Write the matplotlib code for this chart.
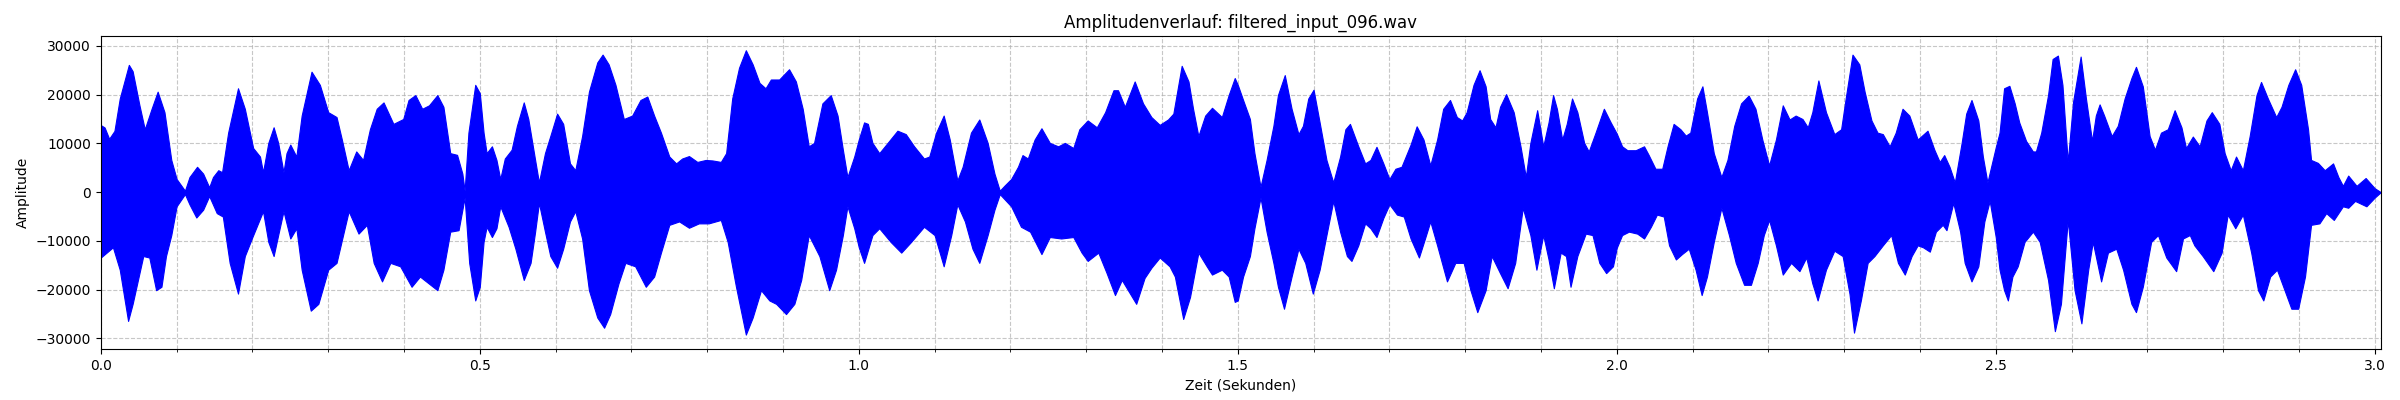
import matplotlib
matplotlib.use('Agg')
import matplotlib.pyplot as plt
from matplotlib.ticker import MultipleLocator

# Envelope of the waveform (seconds, amplitude)
duration = 3.008

upper_t = [0.000, 0.005, 0.011, 0.018, 0.025, 0.037, 0.042, 0.051, 0.058, 0.067, 0.075, 0.084, 0.093, 0.100,
           0.111, 0.117, 0.127, 0.135, 0.143, 0.148, 0.155, 0.160, 0.168, 0.181, 0.190, 0.201, 0.210, 0.214,
           0.221, 0.228, 0.234, 0.241, 0.245, 0.250, 0.258, 0.265, 0.278, 0.289, 0.300, 0.311, 0.318, 0.327,
           0.337, 0.346, 0.355, 0.364, 0.373, 0.386, 0.399, 0.406, 0.415, 0.424, 0.433, 0.444, 0.452, 0.461,
           0.470, 0.477, 0.480, 0.485, 0.494,
           0.500, 0.505, 0.509, 0.516, 0.522, 0.527, 0.533, 0.542, 0.549, 0.558, 0.564, 0.573, 0.578, 0.586,
           0.593, 0.602, 0.610, 0.619, 0.626, 0.635, 0.644, 0.655, 0.662, 0.670, 0.679, 0.690, 0.701, 0.712,
           0.721, 0.730, 0.739, 0.750, 0.759, 0.767, 0.776, 0.787, 0.798, 0.807, 0.818, 0.825, 0.833, 0.842,
           0.851, 0.860, 0.869, 0.877, 0.884, 0.895, 0.908, 0.917, 0.926, 0.934, 0.941, 0.952, 0.963, 0.972,
           0.979, 0.985, 0.994,
           1.000, 1.007, 1.012, 1.018, 1.027, 1.038, 1.051, 1.062, 1.073, 1.086, 1.093, 1.102, 1.112, 1.120,
           1.130, 1.137, 1.148, 1.159, 1.170, 1.179, 1.186, 1.192, 1.201, 1.210, 1.216, 1.223, 1.232, 1.241,
           1.252, 1.263, 1.272, 1.283, 1.291, 1.302, 1.314, 1.325, 1.336, 1.342, 1.351, 1.364, 1.375, 1.386,
           1.397, 1.408, 1.415, 1.426, 1.435, 1.441, 1.448, 1.457, 1.466, 1.479, 1.488, 1.496,
           1.500, 1.507, 1.516, 1.522, 1.530, 1.538, 1.547, 1.553, 1.562, 1.571, 1.580, 1.586, 1.593, 1.600,
           1.608, 1.617, 1.626, 1.635, 1.642, 1.648, 1.659, 1.668, 1.675, 1.683, 1.692, 1.700, 1.708, 1.716,
           1.728, 1.736, 1.745, 1.754, 1.763, 1.771, 1.780, 1.789, 1.796, 1.802, 1.811, 1.819, 1.827, 1.833,
           1.840, 1.846, 1.854, 1.864, 1.873, 1.880, 1.886, 1.895, 1.903, 1.910, 1.916, 1.921, 1.928, 1.934,
           1.941, 1.948, 1.957, 1.963, 1.972, 1.983, 1.992,
           2.000, 2.007, 2.014, 2.025, 2.036, 2.042, 2.051, 2.060, 2.067, 2.075, 2.084, 2.091, 2.097, 2.106,
           2.113, 2.119, 2.128, 2.138, 2.146, 2.155, 2.164, 2.174, 2.183, 2.192, 2.201, 2.210, 2.219, 2.228,
           2.236, 2.245, 2.252, 2.258, 2.266, 2.276, 2.287, 2.296, 2.302, 2.311, 2.320, 2.327, 2.336, 2.344,
           2.351, 2.360, 2.368, 2.377, 2.386, 2.397, 2.410, 2.419, 2.426, 2.432, 2.439, 2.446, 2.455, 2.461,
           2.468, 2.477, 2.483, 2.489,
           2.500, 2.505, 2.511, 2.518, 2.525, 2.531, 2.540, 2.549, 2.553, 2.560, 2.569, 2.575, 2.582, 2.588,
           2.595, 2.602, 2.612, 2.619, 2.627, 2.632, 2.637, 2.643, 2.653, 2.661, 2.670, 2.679, 2.685, 2.694,
           2.703, 2.710, 2.718, 2.727, 2.736, 2.745, 2.751, 2.760, 2.769, 2.778, 2.785, 2.795, 2.802, 2.810,
           2.817, 2.826, 2.835, 2.844, 2.850, 2.859, 2.870, 2.877, 2.886, 2.895, 2.903, 2.912, 2.916, 2.925,
           2.934, 2.945, 2.952, 2.958, 2.965, 2.976, 2.988, 3.000, 3.008]

upper_amp = [13750, 13260, 10950, 12560, 19200, 26100, 24800, 17800, 12900, 17100, 20600, 16400, 6600, 2700,
             300, 3100, 5200, 3800, 1000, 3100, 4500, 4100, 12200, 21300, 17100, 9050, 7300, 4100,
             10100, 13300, 10100, 4100, 8000, 9750, 7300, 15700, 24700, 22000, 16400, 15400, 10800, 4500,
             8350, 6600, 12900, 17100, 18400, 14000, 15000, 18900, 19900, 17100, 17800, 19900, 17500, 8000,
             7650, 3800, 300, 12200, 22000,
             20300, 12200, 8000, 9400, 6600, 2700, 6900, 8700, 13600, 18400, 15000, 6600, 2000, 8000,
             11500, 16100, 14000, 5900, 4500, 11500, 20600, 26600, 28200, 26200, 22000, 15000, 15700, 18900,
             19600, 15700, 12200, 7300, 5900, 6900, 7400, 6200, 6600, 6500, 6200, 8000, 19200, 25500,
             29100, 26200, 22400, 21300, 23100, 23100, 25200, 22700, 17100, 9400, 10100, 18200, 19900, 15700,
             8700, 3100, 7300,
             10800, 14300, 14000, 10100, 8000, 10100, 12600, 11900, 9400, 6900, 7300, 12200, 15700, 10800,
             2400, 5200, 12200, 14900, 10100, 3800, 300, 1300, 2700, 5200, 7600, 6900, 10800, 13100,
             10100, 9400, 10100, 9050, 12900, 14700, 13300, 16400, 20900, 20900, 17500, 22700, 18200, 15400,
             13800, 14900, 16100, 25900, 22700, 17100, 11500, 15700, 17300, 15400, 19900, 23400,
             22000, 18900, 15000, 8000, 1100, 6600, 13600, 19900, 24000, 17100, 11900, 13600, 19200, 21000,
             14300, 6600, 2000, 7300, 12900, 14000, 9400, 5900, 6600, 9300, 5900, 2700, 4800, 5200,
             9750, 13500, 10800, 5500, 10800, 17100, 18900, 15400, 14700, 16400, 22000, 25000, 21700, 15000,
             13300, 17500, 20100, 16400, 9400, 3100, 10100, 16800, 9400, 14300, 19900, 17100, 10800, 14000,
             19200, 16400, 10100, 8350, 12200, 17100, 14300,
             12000, 9400, 8600, 8600, 9400, 7650, 4800, 4800, 9400, 14000, 12900, 11600, 12200, 19200,
             21700, 16400, 8000, 3100, 6600, 13600, 18200, 19800, 17100, 10800, 5500, 10800, 17800, 14900,
             15700, 15000, 13300, 16400, 22900, 16400, 11900, 12900, 19200, 28200, 26200, 20600, 14700, 12200,
             11900, 9400, 12200, 17100, 15700, 10800, 12600, 8700, 6200, 7600, 5200, 2000, 10100, 16100,
             18900, 14700, 7300, 2000,
             9200, 12200, 21300, 21800, 18200, 14300, 10500, 8350, 8350, 12200, 19900, 27300, 28000, 22000,
             6200, 18500, 27800, 19200, 10500, 15700, 18000, 15700, 11500, 13600, 19200, 23400, 25700, 21700,
             11500, 8700, 12200, 12900, 16800, 13300, 9050, 11400, 9400, 14700, 16400, 14000, 8000, 4500,
             7300, 4500, 11500, 19900, 22600, 19200, 15400, 17500, 22000, 25200, 22000, 12900, 6600, 6000,
             4500, 5900, 3100, 1300, 3400, 1300, 2900, 800, 0]

lower_t = [0.000, 0.016, 0.025, 0.036, 0.042, 0.056, 0.064, 0.073, 0.080, 0.086, 0.093, 0.100, 0.111, 0.117,
           0.126, 0.135, 0.143, 0.153, 0.161, 0.170, 0.181, 0.190, 0.200, 0.214, 0.221, 0.228, 0.234, 0.241,
           0.250, 0.258, 0.265, 0.277, 0.287, 0.300, 0.311, 0.327, 0.340, 0.351, 0.360, 0.371, 0.382, 0.395,
           0.410, 0.421, 0.444, 0.452, 0.461, 0.472, 0.480, 0.486, 0.494,
           0.500, 0.505, 0.509, 0.516, 0.522, 0.527, 0.538, 0.547, 0.558, 0.567, 0.573, 0.578, 0.586, 0.593,
           0.602, 0.610, 0.619, 0.626, 0.635, 0.644, 0.655, 0.664, 0.672, 0.683, 0.692, 0.705, 0.719, 0.730,
           0.739, 0.750, 0.763, 0.776, 0.789, 0.802, 0.818, 0.827, 0.838, 0.851, 0.860, 0.871, 0.882, 0.891,
           0.904, 0.915, 0.924, 0.934, 0.948, 0.961, 0.970, 0.979, 0.985, 0.994,
           1.000, 1.007, 1.018, 1.027, 1.042, 1.056, 1.069, 1.086, 1.100, 1.112, 1.122, 1.130, 1.140, 1.150,
           1.159, 1.170, 1.179, 1.186, 1.201, 1.214, 1.226, 1.241, 1.252, 1.267, 1.283, 1.294, 1.302, 1.316,
           1.327, 1.338, 1.347, 1.366, 1.377, 1.386, 1.397, 1.410, 1.417, 1.428, 1.437, 1.448, 1.459, 1.466,
           1.479, 1.488, 1.496,
           1.500, 1.507, 1.516, 1.522, 1.530, 1.538, 1.547, 1.553, 1.561, 1.571, 1.580, 1.589, 1.599, 1.608,
           1.617, 1.626, 1.635, 1.644, 1.650, 1.659, 1.668, 1.675, 1.683, 1.692, 1.700, 1.710, 1.719, 1.728,
           1.739, 1.747, 1.754, 1.763, 1.776, 1.787, 1.798, 1.807, 1.816, 1.827, 1.835, 1.846, 1.856, 1.866,
           1.876, 1.886, 1.894, 1.903, 1.910, 1.917, 1.926, 1.933, 1.939, 1.948, 1.959, 1.968, 1.977, 1.986,
           1.995,
           2.000, 2.007, 2.016, 2.027, 2.036, 2.045, 2.053, 2.062, 2.069, 2.078, 2.086, 2.095, 2.104, 2.112,
           2.119, 2.128, 2.138, 2.148, 2.157, 2.168, 2.177, 2.186, 2.194, 2.201, 2.210, 2.219, 2.230, 2.241,
           2.250, 2.258, 2.265, 2.276, 2.287, 2.298, 2.307, 2.313, 2.322, 2.331, 2.340, 2.351, 2.362, 2.371,
           2.380, 2.389, 2.397, 2.404, 2.413, 2.421, 2.430, 2.435, 2.444, 2.453, 2.459, 2.468, 2.477, 2.485,
           2.492,
           2.500, 2.505, 2.511, 2.516, 2.522, 2.529, 2.538, 2.549, 2.558, 2.569, 2.578, 2.586, 2.595, 2.604,
           2.613, 2.622, 2.628, 2.639, 2.648, 2.659, 2.668, 2.679, 2.685, 2.694, 2.705, 2.714, 2.725, 2.738,
           2.747, 2.756, 2.762, 2.773, 2.787, 2.798, 2.806, 2.816, 2.826, 2.837, 2.846, 2.853, 2.862, 2.871,
           2.881, 2.890, 2.899, 2.908, 2.916, 2.927, 2.936, 2.946, 2.958, 2.965, 2.974, 2.989, 3.000, 3.008]

lower_amp = [-13400, -11300, -15900, -26400, -22900, -13100, -13400, -20100, -19400, -13100, -8800, -2900, -400, -2500,
             -5200, -3600, -800, -4300, -5000, -14500, -20800, -13100, -9200, -3900, -10200, -13100, -8800, -3900,
             -9500, -7400, -15900, -24300, -22900, -15900, -14500, -3900, -8500, -6700, -14500, -18300, -14500, -15200,
             -19400, -17300, -20100, -15900, -8100, -7800, -1100, -14500, -22200,
             -19400, -10200, -7100, -9200, -7400, -2900, -7100, -11600, -18000, -14500, -8100, -2200, -8100, -13100,
             -15500, -11600, -6000, -3900, -9500, -20100, -25700, -27800, -25000, -18700, -14500, -15200, -19400, -17300,
             -12400, -6700, -6000, -7300, -6400, -6400, -5700, -10200, -19400, -29200, -25700, -20100, -22200, -22900,
             -25000, -22900, -18000, -8800, -13100, -20100, -15900, -8800, -2900, -7400,
             -11300, -14500, -8800, -7400, -10200, -12400, -10200, -7100, -8800, -15200, -8800, -2500, -6000, -11600,
             -14500, -8800, -3600, -400, -2900, -7100, -8100, -12700, -9200, -9500, -9200, -12400, -14100, -12400,
             -16600, -21100, -18000, -22900, -17600, -15500, -13400, -15200, -17300, -26000, -21500, -12400, -15200, -16900,
             -15900, -17300, -22500,
             -22200, -17300, -13100, -7400, -1100, -8100, -14500, -19400, -23900, -17300, -11600, -14500, -20800, -15900,
             -8800, -1800, -8100, -13100, -14100, -10900, -6400, -7400, -9200, -5300, -2500, -4600, -5000, -9500,
             -13400, -9500, -6000, -10900, -18300, -14500, -14500, -20100, -24600, -20100, -13100, -16600, -19700, -14500,
             -3200, -8800, -15900, -8800, -13800, -19700, -12400, -13100, -19400, -13100, -8500, -8800, -14500, -16600,
             -15200,
             -11400, -8800, -8100, -8500, -9500, -7100, -4600, -5000, -10900, -13800, -12700, -11600, -15900, -21100,
             -17300, -10200, -3200, -8800, -14500, -19000, -19000, -14500, -8800, -5700, -10900, -16900, -14500, -16200,
             -13400, -18700, -22200, -15900, -12000, -13100, -20800, -28800, -22200, -14500, -13100, -10900, -8800, -14500,
             -16900, -13100, -10900, -11300, -12200, -8100, -6700, -7800, -2200, -8100, -14500, -18300, -15200, -6000,
             -1800,
             -9200, -15900, -20100, -22200, -17300, -15200, -10200, -8100, -10200, -18000, -28500, -22900, -5700, -20100,
             -26900, -15900, -10200, -18300, -12400, -11600, -15900, -22900, -24600, -19400, -10200, -8800, -13400, -16200,
             -9500, -8800, -10900, -13100, -16200, -12400, -4600, -7400, -4600, -12400, -20100, -22200, -17300, -15900,
             -20100, -23900, -23900, -17300, -6700, -6400, -4300, -5700, -2900, -3200, -1800, -2900, -1100, 0]

plt.figure(figsize=(24, 4), dpi=100)
ax = plt.gca()

# Waveform drawn as filled envelope (positive and negative halves), above the grid
ax.fill_between(upper_t, 0, upper_amp, color='blue', linewidth=0.8, edgecolor='blue', zorder=2)
ax.fill_between(lower_t, lower_amp, 0, color='blue', linewidth=0.8, edgecolor='blue', zorder=2)

plt.title('Amplitudenverlauf: filtered_input_096.wav')
plt.xlabel('Zeit (Sekunden)')
plt.ylabel('Amplitude')
plt.xlim(0, duration)
ax.xaxis.set_major_locator(MultipleLocator(0.5))
ax.xaxis.set_minor_locator(MultipleLocator(0.1))
plt.grid(True, which='both', linestyle='--', alpha=0.7)

plt.subplots_adjust(left=0.042, right=0.992, top=0.91, bottom=0.128)
plt.savefig('out.png')
